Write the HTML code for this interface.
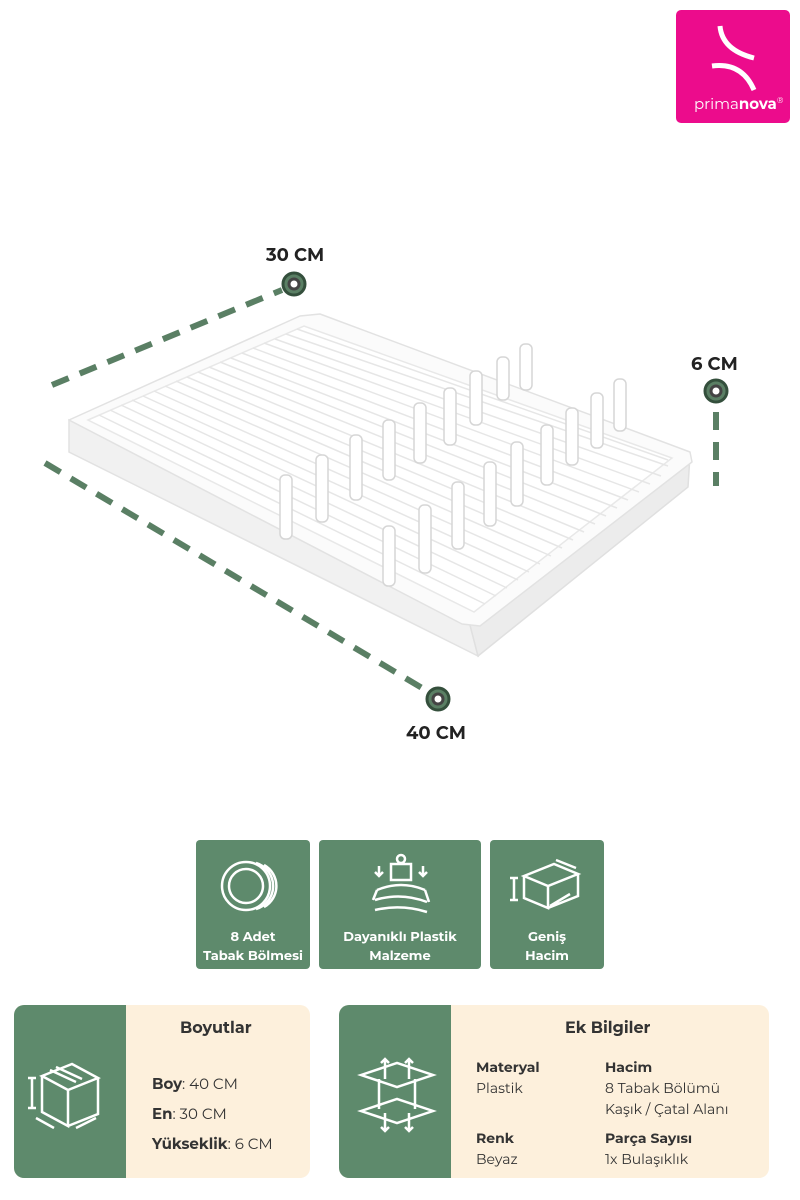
<!DOCTYPE html>
<html><head><meta charset="utf-8"><style>
body{margin:0;width:800px;height:1200px;background:#fff;position:relative;font-family:"Montserrat","Liberation Sans",sans-serif;overflow:hidden}
.abs{position:absolute}
.lbl{font-weight:bold;font-size:18px;color:#222}
.tile{position:absolute;top:840px;height:129px;background:#5e8a6c;border-radius:4px;color:#fff;font-weight:bold;font-size:13px;text-align:center;line-height:19px}
.tile .t{position:absolute;left:0;right:0;top:88px}
.card{position:absolute;top:1005px;height:173px;background:#fdf0dc;border-radius:10px;overflow:hidden;color:#333}
.card .g{position:absolute;left:0;top:0;bottom:0;background:#5e8a6c}
.card b{color:#333}
</style></head><body>
<div class="abs" style="left:676px;top:10px;width:114px;height:113px;background:#ec0c8c;border-radius:5px">
<svg width="114" height="113" class="abs" style="left:0;top:0"><path d="M44 16 Q46 40 78 48" stroke="#fff" stroke-width="5" fill="none"/><path d="M36 56 Q66 52 78 80" stroke="#fff" stroke-width="5" fill="none"/></svg>
<div class="abs" style="left:18px;top:84px;color:#fff;font-size:15px">prima<b>nova</b><sup style="font-size:8px">®</sup></div></div>

<svg class="abs" style="left:0;top:0" width="800" height="800">
<g stroke="#5a7f64" stroke-width="6" stroke-dasharray="18 12" fill="none">
<line x1="52" y1="385" x2="282" y2="290"/>
<line x1="45" y1="463" x2="422" y2="688"/>
<line x1="716" y1="412" x2="716" y2="486"/>
</g>
<g fill="#5a7f64" stroke="#344f3c" stroke-width="3"><circle cx="294" cy="284" r="11"/><circle cx="438" cy="699" r="11"/><circle cx="716" cy="391" r="11"/></g>
<g fill="#fff" stroke="#444" stroke-width="3"><circle cx="294" cy="284" r="5"/><circle cx="438" cy="699" r="5"/><circle cx="716" cy="391" r="5"/></g>
<polygon points="69,420 470,625 478,656 69,452" fill="#f1f1f1" stroke="#e2e2e2" stroke-width="1.5"/>
<polygon points="470,625 690,455 688,487 478,656" fill="#ececec" stroke="#e0e0e0" stroke-width="1.5"/>
<polygon points="69,420 300,316 320,314 690,452 692,462 480,626 462,624" fill="#fbfbfb" stroke="#e2e2e2" stroke-width="1.5" stroke-linejoin="round"/>
<polygon points="88,420 304,326 672,458 474,612" fill="#fff" stroke="#e8e8e8" stroke-width="1.5"/>
<g stroke="#e6e6e6" stroke-width="1.5">
<line x1="99" y1="415" x2="485" y2="604"/><line x1="110" y1="410" x2="496" y2="596"/><line x1="121" y1="405" x2="507" y2="588"/><line x1="132" y1="400" x2="518" y2="580"/><line x1="143" y1="396" x2="529" y2="572"/><line x1="154" y1="391" x2="540" y2="564"/><line x1="165" y1="386" x2="551" y2="556"/><line x1="176" y1="381" x2="562" y2="548"/><line x1="187" y1="377" x2="573" y2="540"/><line x1="198" y1="372" x2="584" y2="532"/><line x1="209" y1="367" x2="595" y2="524"/><line x1="220" y1="362" x2="606" y2="516"/><line x1="231" y1="358" x2="617" y2="508"/><line x1="242" y1="353" x2="628" y2="500"/><line x1="253" y1="348" x2="639" y2="492"/><line x1="264" y1="343" x2="650" y2="484"/><line x1="275" y1="339" x2="661" y2="476"/><line x1="286" y1="334" x2="668" y2="466"/><line x1="297" y1="329" x2="668" y2="460"/>
</g>
<g fill="#fff" stroke="#d6d6d6" stroke-width="1.5">
<rect x="280" y="475" width="12" height="64" rx="5"/><rect x="316" y="455" width="12" height="67" rx="5"/><rect x="350" y="435" width="12" height="65" rx="5"/><rect x="383" y="420" width="12" height="60" rx="5"/><rect x="414" y="403" width="12" height="60" rx="5"/><rect x="444" y="388" width="12" height="57" rx="5"/><rect x="470" y="371" width="12" height="54" rx="5"/><rect x="497" y="357" width="12" height="43" rx="5"/><rect x="520" y="344" width="12" height="46" rx="5"/>
<rect x="383" y="526" width="12" height="60" rx="5"/><rect x="419" y="505" width="12" height="68" rx="5"/><rect x="452" y="482" width="12" height="67" rx="5"/><rect x="484" y="462" width="12" height="64" rx="5"/><rect x="511" y="442" width="12" height="64" rx="5"/><rect x="541" y="425" width="12" height="60" rx="5"/><rect x="566" y="408" width="12" height="57" rx="5"/><rect x="591" y="393" width="12" height="55" rx="5"/><rect x="614" y="379" width="12" height="52" rx="5"/>
</g>
</svg>
<div class="abs lbl" style="left:266px;top:244px">30 CM</div>
<div class="abs lbl" style="left:691px;top:353px">6 CM</div>
<div class="abs lbl" style="left:406px;top:722px">40 CM</div>

<div class="tile" style="left:196px;width:114px">
<svg class="abs" style="left:20px;top:8px" width="74" height="74" fill="none" stroke="#fff" stroke-width="2.5"><circle cx="30" cy="38" r="24"/><circle cx="30" cy="38" r="17"/><path d="M40 15 A24 24 0 0 1 40 61 M48 17 A24 24 0 0 1 48 59"/></svg>
<div class="t">8 Adet<br>Tabak Bölmesi</div></div>
<div class="tile" style="left:319px;width:162px">
<svg class="abs" style="left:50px;top:10px" width="64" height="70" fill="none" stroke="#fff" stroke-width="2.5"><rect x="22" y="14" width="20" height="16"/><circle cx="32" cy="9" r="4"/><path d="M10 16v10M6 22l4 4 4-4M54 16v10M50 22l4 4 4-4M8 40 Q32 30 56 40 M6 50 Q32 42 58 52 M6 60 Q32 54 58 62 M8 40 L4 50 M56 40 L60 52"/></svg>
<div class="t">Dayanıklı Plastik<br>Malzeme</div></div>
<div class="tile" style="left:490px;width:114px">
<svg class="abs" style="left:18px;top:16px" width="80" height="60" fill="none" stroke="#fff" stroke-width="2.5"><path d="M16 20l30-12 24 10-30 12z M16 20v22l24 10V30 M70 18v22l-30 12 M6 22v22 M2 22h8 M2 44h8 M48 4l20 8 M62 38l-20 12"/></svg>
<div class="t">Geniş<br>Hacim</div></div>

<div class="card" style="left:14px;width:296px">
<div class="g" style="width:112px"><svg class="abs" style="left:12px;top:45px" width="90" height="90" fill="none" stroke="#fff" stroke-width="2.5"><path d="M16 26l30-12 26 14-30 12z M16 26v36l26 14V40 M72 28v36L42 76 M6 28v30 M2 28h8 M2 58h8 M10 68l18 10 M50 78l20-10 M24 20l26 12 M30 17l26 12"/></svg></div>
<div class="abs" style="left:166px;top:14px;font-weight:bold;font-size:16px">Boyutlar</div>
<div class="abs" style="left:138px;top:64px;font-size:15px;line-height:30px"><b>Boy</b>: 40 CM<br><b>En</b>: 30 CM<br><b>Yükseklik</b>: 6 CM</div>
</div>
<div class="card" style="left:339px;width:430px">
<div class="g" style="width:112px"><svg class="abs" style="left:18px;top:50px" width="80" height="80" fill="none" stroke="#fff" stroke-width="2.5"><path d="M4 20l36-12 36 12-36 12z M4 56l36-12 36 12-36 12z M22 24v30 M58 24v30 M28 4v20 M24 8l4-4 4 4 M52 4v20 M48 8l4-4 4 4 M28 58v18 M24 72l4 4 4-4 M52 58v18 M48 72l4 4 4-4"/></svg></div>
<div class="abs" style="left:226px;top:14px;font-weight:bold;font-size:16px">Ek Bilgiler</div>
<div class="abs" style="left:137px;top:52px;font-size:14px;line-height:21px"><b>Materyal</b><br>Plastik</div>
<div class="abs" style="left:266px;top:52px;font-size:14px;line-height:21px"><b>Hacim</b><br>8 Tabak Bölümü<br>Kaşık / Çatal Alanı</div>
<div class="abs" style="left:137px;top:123px;font-size:14px;line-height:21px"><b>Renk</b><br>Beyaz</div>
<div class="abs" style="left:266px;top:123px;font-size:14px;line-height:21px"><b>Parça Sayısı</b><br>1x Bulaşıklık</div>
</div>
</body></html>
